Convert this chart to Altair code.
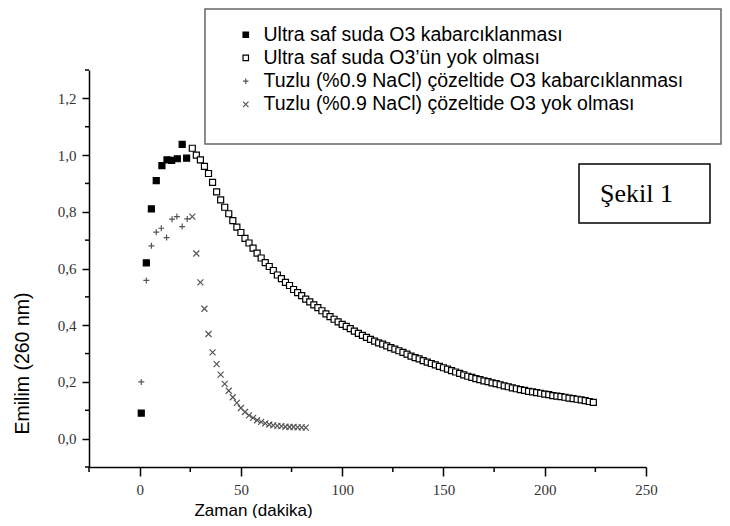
import altair as alt
import pandas as pd

# ---------------- data ----------------
series_names = [
    "Ultra saf suda O3 kabarcıklanması",
    "Ultra saf suda O3’ün yok olması",
    "Tuzlu (%0.9 NaCl) çözeltide O3 kabarcıklanması",
    "Tuzlu (%0.9 NaCl) çözeltide O3 yok olması",
]

# Ultra pure water, O3 bubbling (filled squares)
s1_t = [0.8, 3.3, 5.8, 8.2, 11.0, 13.5, 15.8, 18.6, 21.0, 23.2]
s1_v = [0.09, 0.62, 0.81, 0.91, 0.963, 0.983, 0.981, 0.987, 1.038, 0.989]

# Ultra pure water, O3 decay (open squares)
s2_t = [26, 28, 30, 32, 34, 36, 38, 40, 42, 44, 46, 48, 50, 52, 54, 56, 58, 60,
        62, 64, 66, 68, 70, 72, 74, 76, 78, 80, 82, 84, 86, 88, 90, 92, 94, 96,
        98, 100, 102, 104, 106, 108, 110, 112, 114, 116, 118, 120, 122, 124,
        126, 128, 130, 132, 134, 136, 138, 140, 142, 144, 146, 148, 150, 152,
        154, 156, 158, 160, 162, 164, 166, 168, 170, 172, 174, 176, 178, 180,
        182, 184, 186, 188, 190, 192, 194, 196, 198, 200, 202, 204, 206, 208,
        210, 212, 214, 216, 218, 220, 222, 224]
s2_v = [1.024, 1.000, 0.983, 0.960, 0.935, 0.904, 0.870, 0.842, 0.816, 0.793,
        0.769, 0.746, 0.727, 0.706, 0.690, 0.672, 0.654, 0.637, 0.621, 0.607,
        0.593, 0.577, 0.564, 0.551, 0.540, 0.526, 0.515, 0.504, 0.492, 0.482,
        0.472, 0.462, 0.451, 0.440, 0.430, 0.421, 0.412, 0.403, 0.396, 0.388,
        0.379, 0.371, 0.364, 0.357, 0.350, 0.344, 0.338, 0.333, 0.327, 0.321,
        0.316, 0.310, 0.304, 0.298, 0.291, 0.286, 0.281, 0.275, 0.270, 0.265,
        0.260, 0.255, 0.250, 0.245, 0.240, 0.235, 0.230, 0.225, 0.220, 0.216,
        0.212, 0.208, 0.204, 0.201, 0.197, 0.194, 0.190, 0.186, 0.183, 0.179,
        0.176, 0.173, 0.170, 0.167, 0.165, 0.162, 0.160, 0.157, 0.155, 0.152,
        0.150, 0.148, 0.146, 0.143, 0.141, 0.139, 0.137, 0.134, 0.131, 0.128]

# Saline, O3 bubbling (plus)
s3_t = [0.8, 3.3, 5.8, 8.2, 10.7, 13.3, 16.0, 18.4, 21.0, 23.5]
s3_v = [0.20, 0.558, 0.68, 0.728, 0.742, 0.709, 0.774, 0.783, 0.748, 0.775]

# Saline, O3 decay (x)
s4_t = [26, 28, 30, 32, 34, 36, 38, 40, 42, 44, 46, 48, 50, 52, 54, 56, 58,
        60, 62, 64, 66, 68, 70, 72, 74, 76, 78, 80, 82]
s4_v = [0.783, 0.653, 0.551, 0.458, 0.369, 0.304, 0.263, 0.226, 0.193, 0.169,
        0.146, 0.126, 0.108, 0.094, 0.082, 0.073, 0.065, 0.059, 0.054, 0.050,
        0.047, 0.045, 0.044, 0.042, 0.041, 0.041, 0.040, 0.040, 0.039]

x_major = [0, 50, 100, 150, 200, 250]
x_minor = [-25, 25, 75, 125, 175, 225]
y_major = [0.0, 0.2, 0.4, 0.6, 0.8, 1.0, 1.2]
y_minor = [-0.1, 0.1, 0.3, 0.5, 0.7, 0.9, 1.1, 1.3]

x_title = "Zaman (dakika)"
y_title = "Emilim (260 nm)"
figure_label = "Şekil 1"

# ---------------- build table ----------------
rows = []
for name, ts, vs in zip(series_names, [s1_t, s2_t, s3_t, s4_t], [s1_v, s2_v, s3_v, s4_v]):
    for t, v in zip(ts, vs):
        rows.append({"t": t, "v": v, "series": name})
df = pd.DataFrame(rows)

W, H = 557, 397
x_scale = alt.Scale(domain=[-25, 250], nice=False, zero=False)
y_scale = alt.Scale(domain=[-0.1, 1.3], nice=False, zero=False)

x_axis = alt.Axis(
    values=x_major, format="d", title=x_title,
    titleFont="Liberation Sans", titleFontSize=17, titleFontWeight="normal",
    titleColor="black", titleX=164, titleY=48, titleAlign="center",
    titleBaseline="alphabetic",
    labelFont="Liberation Serif", labelFontSize=15, labelColor="#333",
    labelPadding=6, labelFlush=False, tickSize=9, tickWidth=1.5,
    tickColor="black", domainColor="black", domainWidth=1.5, grid=False)

y_axis = alt.Axis(
    values=y_major, labelExpr="replace(format(datum.value, '.1f'), '.', ',')",
    title=y_title, titleFont="Liberation Sans", titleFontSize=19.5,
    titleFontWeight="normal", titleColor="black", titleAngle=270,
    titleX=-61, titleY=293, titleAlign="center", titleBaseline="alphabetic",
    labelFont="Liberation Serif", labelFontSize=15, labelColor="#333",
    labelPadding=6, labelFlush=False, tickSize=7, tickWidth=1.5,
    tickColor="black", domainColor="black", domainWidth=1.5, grid=False)

PLUS = "M-1,0H1M0,-1V1"
CROSS = "M-1,-1L1,1M-1,1L1,-1"

legend = alt.Legend(
    title=None, orient="none", legendX=147, legendY=-45,
    labelFont="Liberation Sans", labelFontSize=19.5, labelColor="black",
    labelLimit=800, labelOffset=8, rowPadding=2.2, padding=0,
    symbolSize=30, symbolStrokeWidth=1.2, symbolOpacity=1,
)

points = alt.Chart(df).mark_point(strokeWidth=1.2, size=36, opacity=1).encode(
    x=alt.X("t:Q", scale=x_scale, axis=x_axis),
    y=alt.Y("v:Q", scale=y_scale, axis=y_axis),
    shape=alt.Shape("series:N", scale=alt.Scale(domain=series_names,
                    range=["square", "square", PLUS, CROSS]), legend=legend),
    fill=alt.Fill("series:N", scale=alt.Scale(domain=series_names,
                  range=["black", "white", "transparent", "transparent"]), legend=legend),
    stroke=alt.Stroke("series:N", scale=alt.Scale(domain=series_names,
                      range=["black", "black", "#555555", "#555555"]), legend=legend),
)

xminor = alt.Chart(pd.DataFrame({"t": x_minor})).mark_rule(
    color="black", strokeWidth=1.5).encode(
    x=alt.X("t:Q", scale=x_scale, axis=x_axis),
    y=alt.value(H), y2=alt.value(H + 5))

yminor = alt.Chart(pd.DataFrame({"v": y_minor})).mark_rule(
    color="black", strokeWidth=1.5).encode(
    y=alt.Y("v:Q", scale=y_scale, axis=y_axis),
    x=alt.value(-4), x2=alt.value(0))

one = pd.DataFrame({"label": [figure_label]})

legend_box = alt.Chart(one).mark_rect(
    fill="white", stroke="#666666", strokeWidth=1.5).encode(
    x=alt.value(116), x2=alt.value(632), y=alt.value(-61), y2=alt.value(74))

fig_box = alt.Chart(one).mark_rect(
    fill="white", stroke="black", strokeWidth=1.5).encode(
    x=alt.value(490), x2=alt.value(621), y=alt.value(94), y2=alt.value(153))

fig_text = alt.Chart(one).mark_text(
    font="Liberation Serif", fontSize=26, color="black", align="left",
    baseline="alphabetic").encode(
    text="label:N", x=alt.value(511), y=alt.value(132))

chart = alt.layer(points, xminor, yminor, legend_box, fig_box, fig_text).properties(
    width=W, height=H,
    padding={"left": 81, "top": 62, "right": 76, "bottom": 51},
    autosize=alt.AutoSizeParams(type="none"),
    background="white",
).configure_view(stroke=None)

chart.save("out.html", embed_options={"renderer": "svg", "actions": False})
